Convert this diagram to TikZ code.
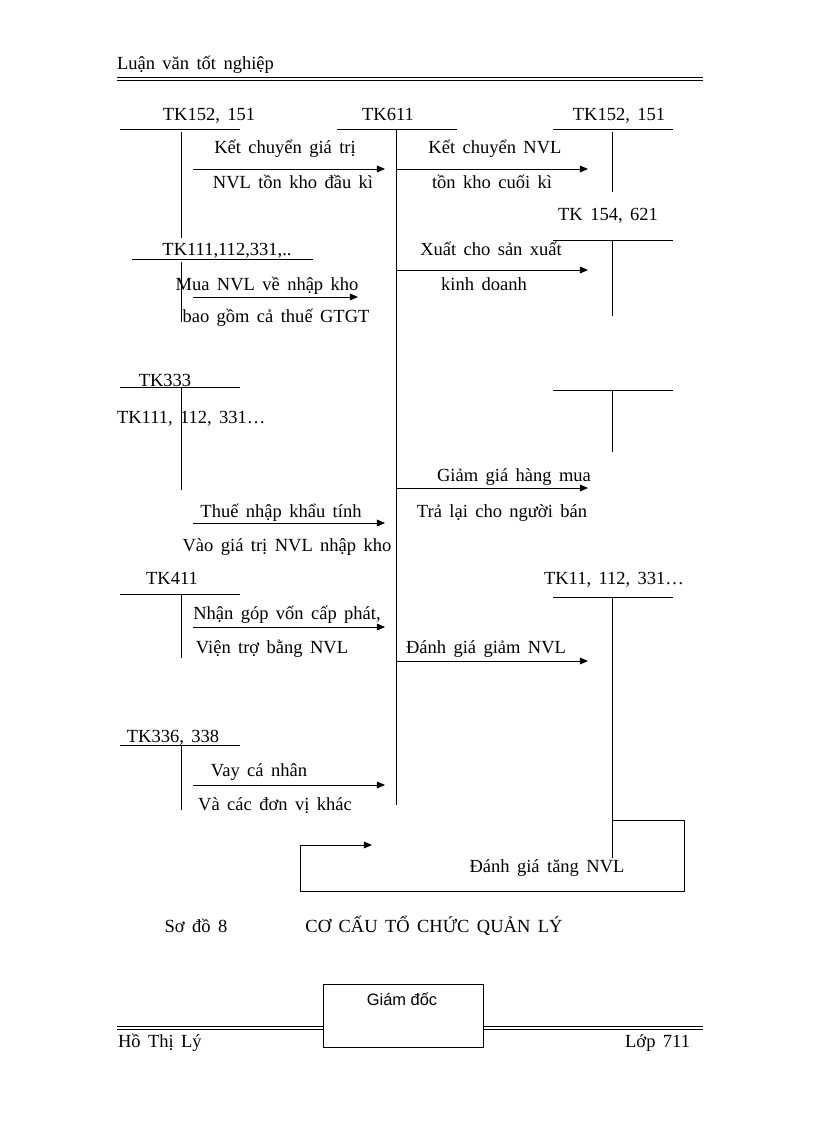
\documentclass[tikz,border=0pt]{standalone}
\usepackage{fontspec}
\setmainfont{Liberation Serif}[WordSpace=1.6]
\newfontfamily\boxfont{Liberation Sans}
\usetikzlibrary{arrows.meta}
\begin{document}
\begin{tikzpicture}[x=0.7292pt,y=-0.7292pt,
  every node/.style={inner sep=0pt,outer sep=0pt,font=\fontsize{13.5}{16}\selectfont},
  lbl/.style={anchor=base},
  lblw/.style={anchor=base west},
  lble/.style={anchor=base east},
  tline/.style={line width=0.6pt,black},
  arr/.style={line width=0.6pt,-{Triangle[length=6pt,width=5pt]}},
  hdr/.style={line width=1.3pt},
  hdrthin/.style={line width=0.5pt}]
\useasboundingbox (0,0) rectangle (816,1123);
% header
\node[lblw] (head) at (117,70) {Luận văn tốt nghiệp};
\coordinate (hl1) at (117,77.5); \coordinate (hr1) at (703,77.5);
\coordinate (hl2) at (117,80.5); \coordinate (hr2) at (703,80.5);
\draw[hdr] (hl1) -- (hr1);
\draw[hdrthin] (hl2) -- (hr2);
% T accounts
\node[lbl] (tA) at (209,121) {TK152, 151};
\coordinate (A1) at (120,129); \coordinate (A2) at (240,129);
\coordinate (A3) at (181,132); \coordinate (A4) at (181,238);
\draw[tline] (A1) -- (A2); \draw[tline] (A3) -- (A4);
\node[lbl] (t611) at (388,121) {TK611};
\coordinate (M1) at (337,129); \coordinate (M2) at (457,129);
\coordinate (M3) at (396,129); \coordinate (M4) at (396,805);
\draw[tline] (M1) -- (M2); \draw[tline] (M3) -- (M4);
\node[lbl] (tB) at (619,121) {TK152, 151};
\coordinate (B1) at (553,129); \coordinate (B2) at (673,129);
\coordinate (B3) at (612,132); \coordinate (B4) at (612,192);
\draw[tline] (B1) -- (B2); \draw[tline] (B3) -- (B4);
\node[lbl] (tC) at (608,221) {TK 154, 621};
\coordinate (C1) at (553,240); \coordinate (C2) at (673,240);
\coordinate (C3) at (612,240); \coordinate (C4) at (612,316);
\draw[tline] (C1) -- (C2); \draw[tline] (C3) -- (C4);
\node[lbl] (tD) at (227,256) {TK111,112,331,..};
\coordinate (D1) at (132,259); \coordinate (D2) at (313,259);
\coordinate (D3) at (181,262); \coordinate (D4) at (181,322);
\draw[tline] (D1) -- (D2); \draw[tline] (D3) -- (D4);
\node[lbl] (tE) at (165,386) {TK333};
\coordinate (E1) at (120,387); \coordinate (E2) at (240,387);
\coordinate (E3) at (181,387); \coordinate (E4) at (181,490);
\draw[tline] (E1) -- (E2); \draw[tline] (E3) -- (E4);
\node[lblw] (tE2) at (117,423) {TK111, 112, 331…};
\coordinate (F1) at (553,390); \coordinate (F2) at (673,390);
\coordinate (F3) at (612,390); \coordinate (F4) at (612,452);
\draw[tline] (F1) -- (F2); \draw[tline] (F3) -- (F4);
\node[lbl] (tG) at (172,584) {TK411};
\coordinate (G1) at (120,594); \coordinate (G2) at (240,594);
\coordinate (G3) at (181,594); \coordinate (G4) at (181,658);
\draw[tline] (G1) -- (G2); \draw[tline] (G3) -- (G4);
\node[lbl] (tH) at (614,584) {TK11, 112, 331…};
\coordinate (H1) at (553,597); \coordinate (H2) at (673,597);
\coordinate (H3) at (612,597); \coordinate (H4) at (612,858);
\draw[tline] (H1) -- (H2); \draw[tline] (H3) -- (H4);
\node[lbl] (tI) at (173,742) {TK336, 338};
\coordinate (I1) at (120,745); \coordinate (I2) at (240,745);
\coordinate (I3) at (181,745); \coordinate (I4) at (181,810);
\draw[tline] (I1) -- (I2); \draw[tline] (I3) -- (I4);
% arrows and labels
\coordinate (a1s) at (193,169); \coordinate (a1e) at (385,169);
\draw[arr] (a1s) -- (a1e);
\node[lbl] (l1a) at (285,154) {Kết chuyển giá trị};
\node[lbl] (l1b) at (293,189) {NVL tồn kho đầu kì};
\coordinate (a2s) at (396,169); \coordinate (a2e) at (588,169);
\draw[arr] (a2s) -- (a2e);
\node[lbl] (l2a) at (495,154) {Kết chuyển NVL};
\node[lbl] (l2b) at (492,189) {tồn kho cuối kì};
\coordinate (a3s) at (396,270); \coordinate (a3e) at (588,270);
\draw[arr] (a3s) -- (a3e);
\node[lbl] (l3a) at (491,256) {Xuất cho sản xuất};
\node[lbl] (l3b) at (484,291) {kinh doanh};
\coordinate (a4s) at (193,297); \coordinate (a4e) at (358,297);
\draw[arr] (a4s) -- (a4e);
\node[lbl] (l4a) at (267,291) {Mua NVL về nhập kho};
\node[lbl] (l4b) at (276,323) {bao gồm cả thuế GTGT};
\coordinate (a5s) at (396,488); \coordinate (a5e) at (588,488);
\draw[arr] (a5s) -- (a5e);
\node[lbl] (l5a) at (514,481) {Giảm giá hàng mua};
\node[lbl] (l5b) at (502,517) {Trả lại cho người bán};
\coordinate (a6s) at (193,523); \coordinate (a6e) at (385,523);
\draw[arr] (a6s) -- (a6e);
\node[lbl] (l6a) at (281,517) {Thuế nhập khẩu tính};
\node[lbl] (l6b) at (287,551) {Vào giá trị NVL nhập kho};
\coordinate (a7s) at (193,627); \coordinate (a7e) at (385,627);
\draw[arr] (a7s) -- (a7e);
\node[lbl] (l7a) at (287,619) {Nhận góp vốn cấp phát,};
\node[lbl] (l7b) at (272,653) {Viện trợ bằng NVL};
\coordinate (a8s) at (396,661); \coordinate (a8e) at (588,661);
\draw[arr] (a8s) -- (a8e);
\node[lbl] (l8a) at (486,653) {Đánh giá giảm NVL};
\coordinate (a9s) at (193,785); \coordinate (a9e) at (385,785);
\draw[arr] (a9s) -- (a9e);
\node[lbl] (l9a) at (259,776) {Vay cá nhân};
\node[lbl] (l9b) at (275,810) {Và các đơn vị khác};
% bracket
\coordinate (k1) at (612,820); \coordinate (k2) at (684,820);
\coordinate (k3) at (684,891); \coordinate (k4) at (300,891);
\coordinate (k5) at (300,845); \coordinate (k6) at (372,845);
\draw[tline,arr] (k1) -- (k2) -- (k3) -- (k4) -- (k5) -- (k6);
\node[lbl] (l10) at (547,872) {Đánh giá tăng NVL};
% caption
\node[lbl] (cap1) at (196,932) {Sơ đồ 8};
\node[lbl] (cap2) at (434,932) {CƠ CẤU TỔ CHỨC QUẢN LÝ};
% footer
\coordinate (fl1) at (117,1026.5); \coordinate (fr1) at (703,1026.5);
\coordinate (fl2) at (117,1029); \coordinate (fr2) at (703,1029);
\draw[hdrthin,line width=0.7pt] (fl1) -- (fr1);
\draw[hdrthin,line width=0.7pt] (fl2) -- (fr2);
\node[draw,fill=white,line width=0.7pt,minimum width=160*0.7292pt,minimum height=63*0.7292pt,anchor=north west] (gd) at (323,984) {};
\node[lbl,font=\boxfont\fontsize{12}{14}\selectfont] (gdt) at (402,1005) {Giám đốc};
\node[lblw] (foot1) at (118,1047) {Hồ Thị Lý};
\node[lble] (foot2) at (690,1047) {Lớp 711};
\end{tikzpicture}
\end{document}
